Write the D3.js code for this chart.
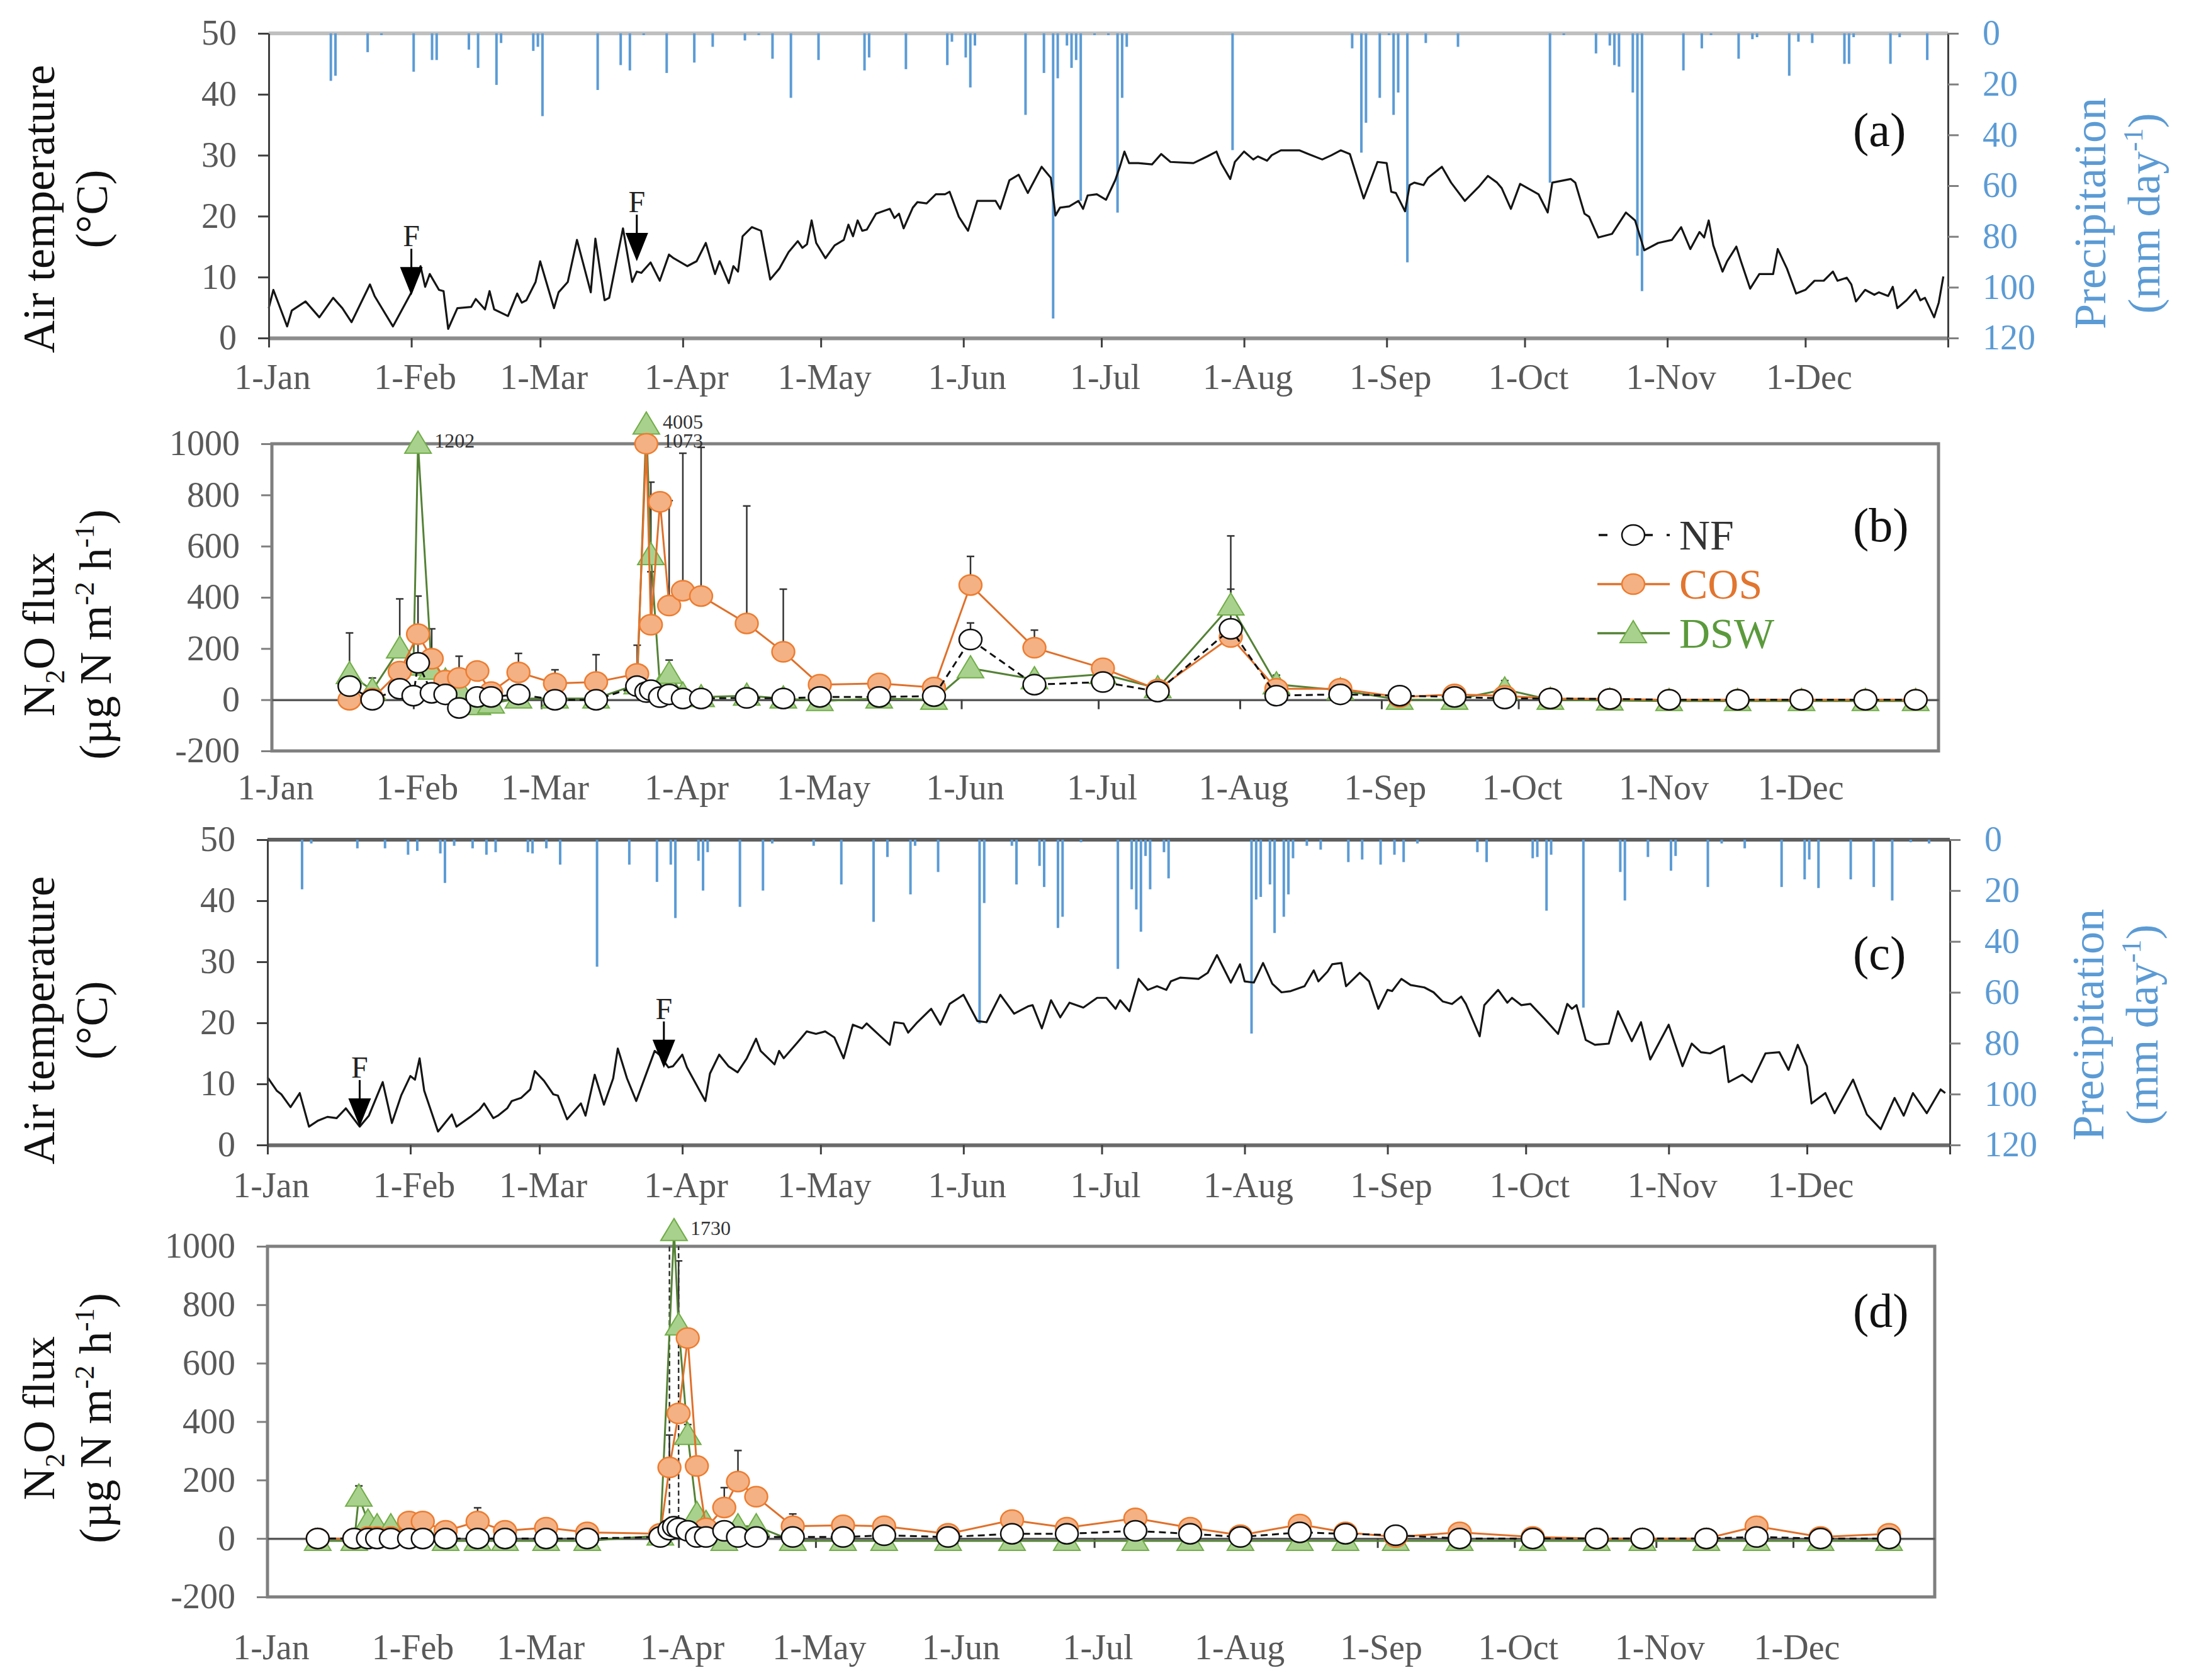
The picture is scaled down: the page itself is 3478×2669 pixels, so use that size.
<!DOCTYPE html>
<html>
<head>
<meta charset="utf-8">
<script src="https://cdn.jsdelivr.net/npm/d3@7"></script>
<style>
  body { margin: 0; background: #fff; }
  svg text { font-family: 'Liberation Serif', 'Times New Roman', serif; }
</style>
</head>
<body>
<svg id="chart" width="3478" height="2669"></svg>
<script>
// ---- shared axis data ----
const monthStarts = [0, 31, 59, 90, 120, 151, 181, 212, 243, 273, 304, 334];
const monthLabels = ['1-Jan', '1-Feb', '1-Mar', '1-Apr', '1-May', '1-Jun', '1-Jul', '1-Aug', '1-Sep', '1-Oct', '1-Nov', '1-Dec'];
const tempTicks = [0, 10, 20, 30, 40, 50];
const rainTicks = [0, 20, 40, 60, 80, 100, 120];
const fluxTicks = [-200, 0, 200, 400, 600, 800, 1000];

// ---- (a) first year: daily air temperature [day of year, °C] ----
const tempA = [[0,4.9],[1,7.9],[4,1.9],[5,4.5],[8,6.0],[11,3.4],[14,6.6],[16,4.9],[18,2.6],[22,8.8],[23,6.9],[27,1.9],[31,7.5],[33,11.8],[34,8.4],[35,10.5],[37,7.9],[38,7.7],[39,1.5],[41,4.9],[44,5.1],[45,6.4],[47,4.7],[48,7.7],[49,4.7],[52,3.6],[54,7.3],[55,5.8],[56,6.2],[58,9.2],[59,12.6],[62,4.9],[63,7.5],[65,9.2],[67,16.1],[70,7.5],[71,16.3],[73,6.2],[74,6.6],[77,18.0],[79,9.2],[80,10.9],[81,10.7],[83,12.4],[85,9.4],[87,13.7],[88,13.1],[91,11.8],[93,12.6],[95,15.6],[97,10.5],[98,12.6],[100,9.0],[101,11.8],[102,10.9],[103,16.7],[105,18.2],[107,17.6],[109,9.6],[111,11.4],[113,14.1],[115,15.9],[116,14.8],[117,15.4],[118,19.3],[119,15.6],[121,13.1],[123,15.2],[125,16.1],[126,18.6],[127,16.7],[128,19.3],[129,17.6],[130,17.8],[132,20.4],[135,21.2],[136,19.7],[137,20.4],[138,18.0],[140,21.4],[141,22.3],[143,22.1],[145,23.6],[147,23.6],[148,24.0],[150,19.9],[152,17.6],[154,22.5],[158,22.5],[159,21.2],[161,25.9],[163,26.8],[165,23.8],[168,28.1],[170,26.3],[171,20.1],[172,21.4],[174,21.6],[176,22.5],[177,21.2],[178,23.4],[180,23.6],[182,22.7],[184,25.9],[185,28.1],[186,30.6],[187,28.7],[189,28.7],[192,28.5],[194,30.2],[196,28.9],[201,28.7],[204,29.8],[206,30.6],[207,28.7],[209,26.1],[210,28.9],[212,30.6],[214,29.3],[215,29.8],[217,29.1],[218,30.0],[220,30.8],[224,30.8],[226,30.2],[229,29.3],[231,30.0],[233,30.8],[235,30.2],[238,22.9],[241,28.9],[243,28.7],[244,24.0],[245,23.8],[247,20.8],[248,25.1],[249,25.5],[251,25.1],[252,26.3],[255,28.1],[257,25.5],[260,22.5],[263,24.8],[265,26.6],[267,25.5],[268,24.6],[270,21.2],[272,25.3],[276,23.6],[278,20.6],[279,25.5],[283,26.1],[284,25.5],[286,20.4],[287,19.9],[289,16.5],[292,17.1],[295,20.6],[297,19.3],[299,14.4],[302,15.6],[305,16.1],[307,18.2],[309,14.6],[311,17.4],[312,16.5],[313,19.3],[314,15.2],[316,10.9],[317,12.6],[319,15.0],[320,12.6],[322,8.1],[324,10.5],[327,10.5],[328,14.6],[330,11.4],[332,7.3],[334,7.9],[336,9.4],[338,9.4],[340,10.9],[341,9.4],[343,9.9],[344,8.8],[345,6.0],[347,7.9],[349,7.1],[350,7.5],[352,6.9],[353,8.4],[354,4.9],[356,6.2],[358,7.9],[359,6.2],[360,6.6],[362,3.4],[363,5.8],[364,10.1]];

// (a) daily precipitation [day, mm]
const rainA = [[13,18.7],[14,16.7],[21,7.4],[24,0.7],[31,15.1],[35,10.5],[36,10.5],[43,6.4],[45,13.6],[49,20.3],[50,3.8],[57,6.9],[58,5.3],[59,32.6],[71,22.3],[76,12.5],[78,14.6],[81,0.7],[86,15.6],[92,11.5],[96,5.3],[103,2.8],[106,0.7],[109,10],[113,25.4],[119,10.5],[129,14.6],[130,9.5],[138,14.1],[147,12.5],[148,3.3],[151,9.5],[152,21.3],[153,4.8],[164,32.1],[168,15.6],[170,112.3],[171,17.7],[173,4.8],[174,13.6],[175,10.5],[176,66],[179,0.7],[182,0.7],[184,70.6],[185,25.4],[186,5.3],[209,46],[235,5.9],[237,47],[238,35.2],[241,25.4],[243,0.7],[244,32.1],[245,23.3],[247,90.2],[251,3.8],[258,5.3],[278,58.8],[281,0.7],[288,7.9],[291,4.8],[292,12.5],[293,13.1],[296,23.3],[297,87.6],[298,101.5],[307,14.6],[311,5.9],[313,0.7],[319,10],[322,2.3],[323,1.5],[330,16.7],[332,3.3],[335,3.8],[342,12],[343,12],[344,1.5],[352,12],[354,1.5],[360,10.5]];

// (a) fertilisation events: day, temperature at arrow tip
const fertA = [31, 80];
const fertATip = [7.0, 12.6];

// ---- (b) N2O flux, first year ----
const bDays = [17, 22, 28, 31, 32, 35, 38, 41, 45, 48, 54, 62, 71, 80, 82, 83, 85, 87, 90, 94, 104, 112, 120, 133, 145, 153, 167, 182, 194, 210, 220, 234, 247, 259, 270, 280, 293, 306, 321, 335, 349, 360];
const nfB  = [53, 0, 43, 16, 144, 27, 21, -32, 11, 11, 21, 0, 0, 53, 30, 37, 10, 21, 5, 5, 7, 5, 11, 11, 14, 235, 59, 69, 32, 277, 16, 21, 16, 11, 5, 5, 3, 0, 0, 0, 0, 0];
const cosB = [0, 5, 110, null, 256, 160, 75, 85, 112, 30, 107, 64, 69, 101, 1073, 293, 773, 368, 426, 405, 298, 187, 59, 64, 48, 448, 203, 123, 40, 245, 43, 43, 10, 21, 15, 5, 3, 0, 0, 0, 0, 0];
const dswB = [100, 37, 200, 133, 1202, 117, 75, 43, -21, -15, 5, 5, 5, 60, 4005, 565, 50, 101, 20, 10, 16, 5, -5, 5, 0, 123, 80, 100, 45, 368, 60, 37, 0, 0, 40, 0, -3, -5, -5, -5, -5, -5];
// error bars [series, day, top of bar]
const errB = [['DSW',17,261],['NF',22,85],['DSW',28,394],['COS',32,405],['NF',32,260],['COS',35,277],['COS',41,170],['COS',54,181],['COS',62,117],['COS',71,176],['COS',80,213],['DSW',83,850],['COS',83,500],['COS',87,778],['DSW',87,155],['COS',90,963],['COS',94,986],['COS',104,757],['COS',112,432],['COS',120,90],['COS',153,560],['NF',153,300],['COS',167,272],['COS',182,155],['DSW',210,640],['NF',210,432],['DSW',220,96],['DSW',270,75]];
// values beyond the axis: [series, day, drawn at]
const offB = [['DSW',32,1000],['DSW',82,1075],['COS',82,1000]];

// ---- (c) second year temperature ----
const tempC = [[0,11.1],[2,8.9],[3,8.3],[5,6.2],[7,8.5],[9,3.0],[11,4.0],[13,4.6],[15,4.4],[17,6.0],[20,3.0],[22,4.8],[25,10.3],[27,3.6],[29,8.1],[31,11.3],[32,10.7],[33,14.2],[34,8.9],[37,2.2],[40,5.0],[41,3.0],[44,4.6],[46,5.8],[47,6.8],[49,4.4],[50,4.8],[52,6.0],[53,7.2],[55,7.7],[57,9.1],[58,12.1],[60,10.5],[62,8.3],[63,8.1],[65,4.2],[68,6.8],[69,4.8],[71,11.5],[73,6.6],[75,10.9],[76,15.8],[78,10.9],[80,7.2],[82,11.3],[84,15.4],[85,14.8],[87,12.7],[88,12.9],[90,14.8],[91,12.7],[95,7.2],[96,11.7],[98,14.8],[100,12.9],[102,11.9],[104,14.2],[106,17.4],[107,15.4],[110,13.2],[111,15.4],[112,14.2],[115,16.8],[117,18.6],[119,18.2],[121,18.6],[123,17.6],[125,14.2],[127,19.7],[129,19.1],[130,19.9],[133,17.8],[135,16.4],[136,20.1],[138,19.9],[139,18.4],[141,20.1],[144,22.3],[146,19.7],[148,23.1],[151,24.6],[154,20.3],[156,20.1],[159,24.6],[162,21.5],[165,22.7],[166,22.9],[168,19.1],[170,23.7],[172,20.9],[174,23.3],[177,22.5],[180,24.1],[182,24.1],[184,22.3],[185,23.7],[187,21.9],[189,27.2],[191,25.4],[193,26.0],[195,25.4],[196,26.8],[198,27.4],[202,27.2],[204,28.2],[206,31.1],[209,26.6],[211,29.6],[212,26.8],[214,26.6],[216,29.8],[218,26.4],[220,25.0],[222,25.2],[225,26.0],[227,28.6],[228,26.8],[230,28.4],[231,29.6],[233,29.8],[234,26.0],[237,28.2],[239,26.8],[241,22.3],[243,25.4],[244,25.2],[246,27.2],[248,26.2],[251,25.8],[253,25.0],[255,23.5],[257,23.1],[259,24.3],[260,23.1],[263,17.8],[264,22.9],[267,25.4],[269,23.3],[270,24.1],[272,22.9],[274,23.1],[277,20.7],[280,18.2],[282,23.1],[283,22.3],[284,22.9],[286,17.2],[288,16.4],[291,16.6],[293,21.9],[296,17.0],[298,20.1],[300,14.0],[304,19.7],[307,12.9],[309,16.6],[311,15.2],[313,15.0],[316,16.2],[317,10.3],[320,11.5],[322,10.3],[325,15.0],[328,15.2],[330,12.3],[332,16.4],[334,12.9],[335,6.8],[338,8.5],[340,5.2],[344,10.7],[347,5.0],[350,2.6],[353,7.7],[355,4.8],[357,8.5],[360,5.2],[363,9.1],[364,8.5]];

const rainC = [[7,19.5],[9,1.5],[19,3.4],[25,3.4],[30,5.9],[32,4.4],[37,5.4],[38,17],[40,2.4],[44,3.4],[47,5.9],[49,4.9],[56,4.9],[57,5.4],[60,3.4],[63,9.8],[71,49.9],[78,9.8],[84,16.6],[87,9.8],[88,30.8],[93,8.3],[94,20],[95,4.9],[102,26.4],[107,20],[109,1.5],[118,2.4],[124,17.6],[131,32.3],[134,6.8],[139,21.5],[140,2.4],[145,12.7],[154,72.3],[155,24.9],[161,2.4],[162,17.6],[167,10.3],[168,18.6],[171,34.7],[172,30.3],[176,1],[184,50.8],[187,19.5],[188,27.4],[189,36.2],[190,6.4],[191,19.5],[194,4.9],[195,15.2],[213,76.2],[214,23.5],[215,22.5],[217,17.6],[218,36.7],[220,30.3],[221,21.5],[222,7.3],[225,2.4],[228,3.9],[234,8.8],[237,7.8],[241,9.8],[244,5.9],[246,8.8],[249,1.5],[262,4.9],[264,8.8],[274,7.3],[275,6.8],[277,27.9],[278,5.9],[285,66],[293,12.7],[294,23.9],[299,6.8],[304,12.2],[305,6.4],[312,18.6],[315,1.5],[320,3.4],[328,18.6],[333,15.6],[334,7.8],[336,19],[343,15.6],[348,18.6],[352,23.9],[356,1],[360,1.5]];

const fertC = [20, 86];
const fertCTip = [3.0, 12.6];

// ---- (d) N2O flux, second year ----
const dDays = [11, 19, 20, 22, 24, 27, 31, 34, 39, 46, 52, 61, 70, 86, 88, 89, 90, 92, 94, 96, 100, 103, 107, 115, 126, 135, 149, 163, 175, 190, 202, 213, 226, 236, 247, 261, 277, 291, 301, 315, 326, 340, 355];
const nfD  = [0, 0, null, 0, 0, 0, 0, 0, 0, 0, 0, 0, 0, 5, 30, 40, 35, 26, 5, 5, 26, 5, 5, 5, 5, 11, 5, 16, 16, 26, 16, 5, 21, 16, 11, 0, 0, 0, 0, 0, 5, 0, 0];
const cosD = [0, 0, null, 5, 5, 5, 58, 58, 26, 58, 26, 37, 21, 16, 243, null, 428, 686, 248, 35, 106, 195, 143, 42, 45, 42, 16, 63, 37, 69, 37, 11, 48, 21, 5, 21, 5, 0, 0, 0, 42, 5, 16];
const dswD = [-8, -8, 143, 58, 42, 42, 37, 32, -8, -8, -8, -8, -8, 10, null, 1730, 729, 354, 84, 53, -8, 42, 42, -8, -8, -8, -8, -8, -8, -8, -8, -8, -8, -8, -8, -8, -8, -8, -8, -8, -8, -8, -8];
const errD = [['DSW',20,180],['COS',46,105],['COS',88,354],['NF',88,1300],['NF',90,1300],['DSW',90,950],['DSW',92,390],['COS',100,174],['COS',103,301],['COS',115,84]];
const offD = [['DSW',89,1052]];

// ---- drawing ----
const svg = d3.select('#chart');
const TICK_GREY = '#595959';
const RAIN_BLUE = '#5b9bd5';
const plain = d => String(d);

function addRich(text, parts, size) {
  let shift = 0;
  parts.forEach(p => {
    const [str, kind] = Array.isArray(p) ? p : [p, 'n'];
    const target = kind === 'sup' ? -0.38 * size : kind === 'sub' ? 0.22 * size : 0;
    text.append('tspan')
      .attr('dy', target - shift)
      .attr('font-size', kind === 'n' ? size : size * 0.62)
      .text(str);
    shift = target;
  });
}

function sideTitle(x, cy, parts, color) {
  const t = svg.append('text')
    .attr('transform', `translate(${x},${cy}) rotate(-90)`)
    .attr('text-anchor', 'middle')
    .attr('fill', color)
    .attr('font-size', 72);
  addRich(t, parts, 72);
}

function styleAxis(g, domainColor, domainWidth, fontSize, textColor) {
  g.select('.domain').attr('stroke', domainColor).attr('stroke-width', domainWidth);
  g.selectAll('.tick line').attr('stroke', '#404040').attr('stroke-width', 3);
  g.selectAll('.tick text')
    .attr('font-size', fontSize)
    .attr('fill', textColor)
    .attr('font-family', "'Liberation Serif', 'Times New Roman', serif");
}

function monthLabelRow(x, y) {
  svg.append('g').selectAll('text')
    .data(monthStarts)
    .join('text')
    .attr('x', d => x(d) + 6)
    .attr('y', y)
    .attr('text-anchor', 'middle')
    .attr('font-size', 56)
    .attr('fill', TICK_GREY)
    .text((d, i) => monthLabels[i]);
}

function panelTag(x, y, label) {
  svg.append('text').attr('x', x).attr('y', y)
    .attr('font-size', 76).attr('fill', '#111').text(label);
}

function climatePanel(o) {
  const x = d3.scaleLinear().domain([0, 365]).range([o.left, o.right]);
  const yT = d3.scaleLinear().domain([0, 50]).range([o.bottom, o.top]);
  const yP = d3.scaleLinear().domain([0, 120]).range([o.top, o.bottom]);
  const g = svg.append('g');

  // top line at 50 °C / 0 mm
  g.append('line')
    .attr('x1', o.left).attr('x2', o.right)
    .attr('y1', o.top).attr('y2', o.top)
    .attr('stroke', o.topColor).attr('stroke-width', 6);

  // precipitation hanging from the top
  g.append('g').selectAll('line')
    .data(o.rain)
    .join('line')
    .attr('x1', d => x(d[0] + 0.5)).attr('x2', d => x(d[0] + 0.5))
    .attr('y1', yP(0)).attr('y2', d => yP(d[1]))
    .attr('stroke', RAIN_BLUE).attr('stroke-width', 4);

  // temperature
  g.append('path')
    .datum(o.temp)
    .attr('d', d3.line().x(d => x(d[0])).y(d => yT(d[1])))
    .attr('fill', 'none')
    .attr('stroke', '#151515')
    .attr('stroke-width', 3.2)
    .attr('stroke-linejoin', 'round');

  // axes
  const bottom = g.append('g')
    .attr('transform', `translate(0,${o.bottom})`)
    .call(d3.axisBottom(x).tickValues([...monthStarts, 365]).tickSize(15).tickSizeOuter(0).tickFormat(''));
  styleAxis(bottom, o.bottomColor, 6, 56, TICK_GREY);

  const left = g.append('g')
    .attr('transform', `translate(${o.left},0)`)
    .call(d3.axisLeft(yT).tickValues(tempTicks).tickSize(17).tickSizeOuter(0).tickPadding(34).tickFormat(plain));
  styleAxis(left, '#404040', 3, 56, TICK_GREY);

  const right = g.append('g')
    .attr('transform', `translate(${o.right},0)`)
    .call(d3.axisRight(yP).tickValues(rainTicks).tickSize(17).tickSizeOuter(0).tickPadding(38).tickFormat(plain));
  styleAxis(right, '#404040', 3, 56, RAIN_BLUE);
  right.selectAll('.tick line').attr('stroke', '#7f7f7f');

  monthLabelRow(x, o.labelY);

  // fertilisation arrows
  o.fert.forEach((day, i) => {
    const cx = x(day), tip = yT(o.fertTip[i]);
    g.append('line')
      .attr('x1', cx).attr('x2', cx).attr('y1', tip - 74).attr('y2', tip - 40)
      .attr('stroke', '#000').attr('stroke-width', 3);
    g.append('path')
      .attr('d', `M${cx - 18},${tip - 45}L${cx + 18},${tip - 45}L${cx},${tip}Z`)
      .attr('fill', '#000');
    g.append('text')
      .attr('x', cx).attr('y', tip - 78)
      .attr('text-anchor', 'middle')
      .attr('font-size', 48).attr('fill', '#222')
      .text('F');
  });

  sideTitle(86, o.titleY, ['Air temperature'], '#111');
  sideTitle(170, o.titleY, ['(°C)'], '#111');
  sideTitle(o.rightTitleX, o.rightTitleY, ['Precipitation'], RAIN_BLUE);
  sideTitle(o.rightTitleX + 86, o.rightTitleY, ['(mm day', ['-1', 'sup'], ')'], RAIN_BLUE);
  panelTag(2944, o.tagY, o.tag);
}

const seriesStyle = {
  DSW: { line: '#548235', fill: '#a9d18e', stroke: '#70ad47', shape: 'tri', dash: null },
  COS: { line: '#e0702a', fill: '#f4b183', stroke: '#ed7d31', shape: 'circle', dash: null },
  NF:  { line: '#111', fill: '#fff', stroke: '#111', shape: 'circle', dash: '11,7' }
};

function drawMarkers(g, pts, st, x, y) {
  if (st.shape === 'circle') {
    g.selectAll('ellipse.m').data(pts).join('ellipse')
      .attr('class', 'm')
      .attr('cx', p => x(p.day)).attr('cy', p => y(p.shown))
      .attr('rx', 18).attr('ry', 16)
      .attr('fill', st.fill).attr('stroke', st.stroke).attr('stroke-width', 2.5);
  } else {
    g.selectAll('path.m').data(pts).join('path')
      .attr('class', 'm')
      .attr('d', p => {
        const cx = x(p.day), cy = y(p.shown);
        return `M${cx},${cy - 20}L${cx + 21},${cy + 15}L${cx - 21},${cy + 15}Z`;
      })
      .attr('fill', st.fill).attr('stroke', st.stroke).attr('stroke-width', 2);
  }
}

function fluxPanel(o) {
  const x = d3.scaleLinear().domain([0, 365]).range([o.left, o.right]);
  const y = d3.scaleLinear().domain([-200, 1000]).range([o.bottom, o.top]);
  const g = svg.append('g');

  g.append('rect')
    .attr('x', o.left).attr('y', o.top)
    .attr('width', o.right - o.left).attr('height', o.bottom - o.top)
    .attr('fill', 'none').attr('stroke', '#7f7f7f').attr('stroke-width', 5);

  const zero = g.append('g')
    .attr('transform', `translate(0,${y(0)})`)
    .call(d3.axisBottom(x).tickValues(monthStarts.slice(1)).tickSize(15).tickSizeOuter(0).tickFormat(''));
  styleAxis(zero, '#595959', 3.5, 56, TICK_GREY);

  const left = g.append('g')
    .attr('transform', `translate(${o.left},0)`)
    .call(d3.axisLeft(y).tickValues(fluxTicks).tickSize(17).tickSizeOuter(0).tickPadding(34).tickFormat(plain));
  styleAxis(left, 'none', 0, 56, TICK_GREY);
  left.selectAll('.tick line').attr('stroke', '#7f7f7f');

  monthLabelRow(x, o.labelY);

  const valuesFor = { NF: o.nf, COS: o.cos, DSW: o.dsw };
  const pointsFor = {};
  Object.keys(valuesFor).forEach(key => {
    pointsFor[key] = o.days.map((day, i) => {
      const v = valuesFor[key][i];
      const off = o.off.find(f => f[0] === key && f[1] === day);
      return { day, v, shown: off ? off[2] : v };
    }).filter(p => p.v !== null);
  });

  // error bars (upper side only, cut at the top of the box)
  const eb = g.append('g');
  o.err.forEach(([key, day, top]) => {
    const p = pointsFor[key].find(q => q.day === day);
    if (!p) return;
    const cut = top > 1000;
    const yTop = y(Math.min(top, 1000));
    eb.append('line')
      .attr('x1', x(day)).attr('x2', x(day))
      .attr('y1', y(p.shown)).attr('y2', yTop)
      .attr('stroke', '#333').attr('stroke-width', 2.5)
      .attr('stroke-dasharray', key === 'NF' && cut ? '8,5' : null);
    if (!cut) {
      eb.append('line')
        .attr('x1', x(day) - 6).attr('x2', x(day) + 6)
        .attr('y1', yTop).attr('y2', yTop)
        .attr('stroke', '#333').attr('stroke-width', 2.5);
    }
  });

  ['DSW', 'COS', 'NF'].forEach(key => {
    const st = seriesStyle[key];
    const pts = pointsFor[key];
    const sg = g.append('g');
    sg.append('path')
      .datum(pts)
      .attr('d', d3.line().x(p => x(p.day)).y(p => y(p.shown)))
      .attr('fill', 'none')
      .attr('stroke', st.line)
      .attr('stroke-width', 3)
      .attr('stroke-dasharray', st.dash);
    drawMarkers(sg, pts, st, x, y);
  });

  // labels for values beyond the axis
  o.off.forEach(([key, day, shown]) => {
    const p = pointsFor[key].find(q => q.day === day);
    g.append('text')
      .attr('x', x(day) + 26).attr('y', y(shown) + 6)
      .attr('font-size', 32).attr('fill', '#333')
      .text(p.v);
  });

  sideTitle(86, o.titleY, ['N', ['2', 'sub'], 'O flux'], '#111');
  sideTitle(176, o.titleY, ['(µg N m', ['-2', 'sup'], ' h', ['-1', 'sup'], ')'], '#111');
  panelTag(2944, o.tagY, o.tag);
  return { x, y, g };
}

climatePanel({
  left: 427, right: 3095, top: 53, bottom: 537,
  temp: tempA, rain: rainA, fert: fertA, fertTip: fertATip,
  topColor: '#bfbfbf', bottomColor: '#8c8c8c',
  labelY: 618, titleY: 332, rightTitleX: 3345, rightTitleY: 339,
  tag: '(a)', tagY: 232
});

fluxPanel({
  left: 432, right: 3080, top: 705, bottom: 1193,
  days: bDays, nf: nfB, cos: cosB, dsw: dswB, err: errB, off: offB,
  labelY: 1270, titleY: 1008, tag: '(b)', tagY: 860
});

// legend for (b)
const legendRows = [
  { key: 'NF', label: 'NF', color: '#333', y: 850 },
  { key: 'COS', label: 'COS', color: '#e2752f', y: 928 },
  { key: 'DSW', label: 'DSW', color: '#5b9a3c', y: 1006 }
];
const lg = svg.append('g');
legendRows.forEach(r => {
  const st = seriesStyle[r.key];
  lg.append('line')
    .attr('x1', 2538).attr('x2', 2653).attr('y1', r.y).attr('y2', r.y)
    .attr('stroke', st.line).attr('stroke-width', 3.5)
    .attr('stroke-dasharray', st.dash ? '14,22' : null)
    .attr('stroke-dashoffset', st.dash ? -2 : null);
  const unit = d3.scaleLinear().domain([0, 1]).range([0, 1]);
  drawMarkers(lg.append('g'), [{ day: 2595, shown: r.y }], st, unit, unit);
  lg.append('text')
    .attr('x', 2668).attr('y', r.y + 23)
    .attr('font-size', 68).attr('fill', r.color)
    .text(r.label);
});

climatePanel({
  left: 425, right: 3098, top: 1334, bottom: 1819,
  temp: tempC, rain: rainC, fert: fertC, fertTip: fertCTip,
  topColor: '#5f5f5f', bottomColor: '#6a6a6a',
  labelY: 1902, titleY: 1621, rightTitleX: 3342, rightTitleY: 1628,
  tag: '(c)', tagY: 1540
});

fluxPanel({
  left: 425, right: 3074, top: 1980, bottom: 2537,
  days: dDays, nf: nfD, cos: cosD, dsw: dswD, err: errD, off: offD,
  labelY: 2636, titleY: 2253, tag: '(d)', tagY: 2108
});
</script>
</body>
</html>
